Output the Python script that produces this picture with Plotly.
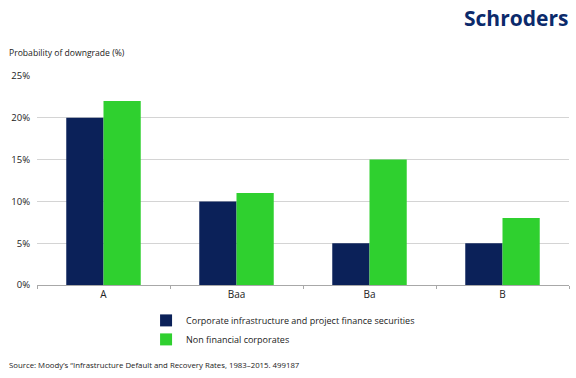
import plotly.graph_objects as go

categories = ["A", "Baa", "Ba", "B"]
infra = [20, 10, 5, 5]
nonfin = [22, 11, 15, 8]
series_names = ["Corporate infrastructure and project finance securities", "Non financial corporates"]
tick_vals = [0, 5, 10, 15, 20, 25]
tick_text = ["0%", "5%", "10%", "15%", "20%", "25%"]

FONT = "Open Sans, Noto Sans, sans-serif"

fig = go.Figure()
fig.add_trace(go.Bar(x=categories, y=infra, name=series_names[0], marker=dict(color="#0b2159", line=dict(width=0))))
fig.add_trace(go.Bar(x=categories, y=nonfin, name=series_names[1], marker=dict(color="#2fd02f", line=dict(width=0))))

fig.update_layout(
    width=576, height=378,
    margin=dict(l=37, r=7, t=76, b=93, autoexpand=False),
    paper_bgcolor="white", plot_bgcolor="white",
    barmode="group", bargap=0.44, bargroupgap=0,
    font=dict(family=FONT, size=10, color="#222222"),
    showlegend=True,
    legend=dict(x=0.205, y=-0.1, xanchor="left", yanchor="top",
                font=dict(size=9, color="#1a1a1a"), itemwidth=30,
                tracegroupgap=0, bgcolor="rgba(0,0,0,0)"),
    xaxis=dict(showgrid=False, showline=True, linecolor="#a8a8a8", linewidth=1,
               ticks="outside", tickson="boundaries", ticklen=3, tickcolor="#a8a8a8",
               tickfont=dict(size=10, color="#222222")),
    yaxis=dict(range=[0, 25], tickvals=tick_vals, ticktext=tick_text,
               showgrid=True, gridcolor="#d4d4d4", gridwidth=1, zeroline=False,
               ticks="", ticklabelstandoff=6, tickfont=dict(size=9.5, color="#222222")),
    annotations=[
        dict(text="Probability of downgrade (%)", xref="paper", yref="paper", x=-0.0565, y=1.11,
             xanchor="left", yanchor="middle", showarrow=False, font=dict(size=8.6, color="#1a1a1a")),
        dict(text="<b>Schroders</b>", xref="paper", yref="paper", x=1.002, y=1.277,
             xanchor="right", yanchor="middle", showarrow=False,
             font=dict(size=21, color="#0b2a6b", family="Open Sans, sans-serif")),
        dict(text="Source: Moody\u2019s \u201cInfrastructure Default and Recovery Rates, 1983\u20132015. 499187",
             xref="paper", yref="paper", x=-0.0565, y=-0.385, xanchor="left", yanchor="middle",
             showarrow=False, font=dict(size=7.8, color="#1a1a1a")),
    ],
)

fig.write_html("out.html", config={"displayModeBar": False},
               post_script="document.body.style.margin='0';document.body.style.overflow='hidden';")
